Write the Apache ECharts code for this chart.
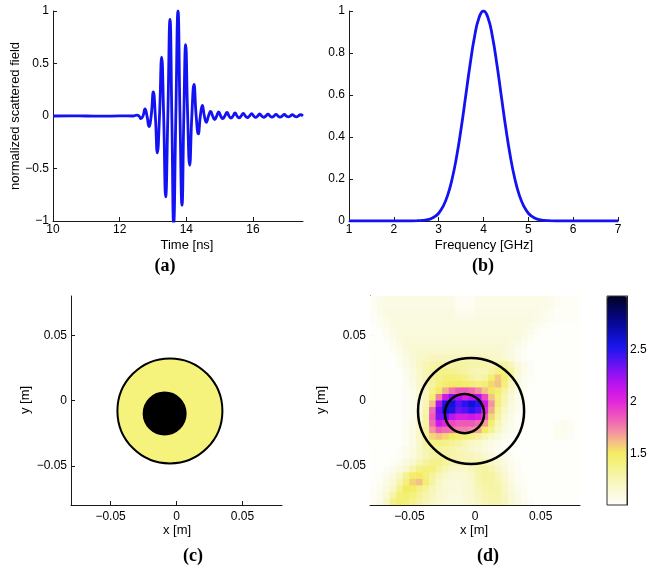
<!DOCTYPE html>
<html>
<head>
<meta charset="UTF-8">
<title>scattered field</title>
<script src="https://cdn.jsdelivr.net/npm/echarts@6/dist/echarts.min.js"></script>
<style>
  html, body { margin: 0; padding: 0; background: #fff; }
  #m1 { width: 647px; height: 572px; }
</style>
</head>
<body>
<div id="m1"></div>
<script>
// (a) normalized scattered field vs time
var timeNs = [10, 10.5, 11, 11.5, 12, 12.4, 12.52, 12.58, 12.64, 12.70, 12.76, 12.82, 12.88, 12.945,
    13.01, 13.07, 13.13, 13.195, 13.26, 13.32, 13.38, 13.445, 13.51, 13.565, 13.62, 13.685, 13.75, 13.81,
    13.87, 13.925, 13.98, 14.04, 14.10, 14.165, 14.23, 14.295, 14.36, 14.42, 14.48, 14.54, 14.60, 14.665,
    14.73, 14.79, 14.85, 14.91, 14.97, 15.03, 15.09, 15.155, 15.22, 15.28, 15.34, 15.40, 15.46, 15.52,
    15.58, 15.645, 15.71, 15.77, 15.83, 15.895, 15.96, 16.02, 16.08, 16.14, 16.20, 16.26, 16.32, 16.385,
    16.45, 16.51, 16.57, 16.63, 16.69, 16.75, 16.81, 16.875, 16.94, 17.00, 17.06, 17.12, 17.18, 17.24,
    17.30, 17.36, 17.42, 17.5];
var fieldVal = [0, 0.002, 0, -0.002, 0.001, 0, 0.008, 0, -0.025, 0, 0.067, 0, -0.10, 0,
    0.23, 0, -0.35, 0, 0.56, 0, -0.77, 0, 0.92, 0, -1.03, 0, 1.0, 0,
    -0.85, 0, 0.68, 0, -0.47, 0, 0.30, 0, -0.17, 0, 0.10, 0, -0.06, 0,
    0.045, 0, -0.035, 0, 0.04, 0, -0.025, 0, 0.035, 0, -0.02, 0, 0.03, 0,
    -0.018, 0, 0.025, 0, -0.015, 0, 0.022, 0, -0.013, 0, 0.02, 0, -0.012, 0,
    0.018, 0, -0.01, 0, 0.016, 0, -0.01, 0, 0.015, 0, -0.008, 0, 0.014, 0,
    -0.008, 0, 0.012, 0.002];

// (b) spectrum
var freqGHz = [1, 1.5, 2, 2.2, 2.4, 2.5, 2.6, 2.7, 2.8, 2.9, 3.0, 3.1, 3.2, 3.3, 3.4, 3.5, 3.6, 3.7, 3.8, 3.9,
    4.0, 4.1, 4.2, 4.3, 4.4, 4.5, 4.6, 4.7, 4.8, 4.9, 5.0, 5.1, 5.2, 5.3, 5.4, 5.5, 5.6, 5.8, 6, 6.5, 7];
var spectrum = [0, 0, 0, 0, 0, 0.001, 0.002, 0.004, 0.009, 0.019, 0.037, 0.07, 0.122, 0.2, 0.306, 0.439, 0.591, 0.744, 0.877, 0.968,
    1.0, 0.968, 0.877, 0.744, 0.591, 0.439, 0.306, 0.2, 0.122, 0.07, 0.037, 0.019, 0.009, 0.004, 0.002, 0.001, 0, 0, 0, 0, 0];

// (c) true profile, circles as [cx, cy, r]
var circlesTrue = [[-0.005, -0.008, 0.040], [-0.009, -0.010, 0.016]];

// (d) reconstruction on a 32x32 grid (cell centres), plus the true outlines
var mapX = [-0.0775, -0.0725, -0.0675, -0.0625, -0.0575, -0.0525, -0.0475, -0.0425, -0.0375, -0.0325, -0.0275,
    -0.0225, -0.0175, -0.0125, -0.0075, -0.0025, 0.0025, 0.0075, 0.0125, 0.0175, 0.0225, 0.0275, 0.0325,
    0.0375, 0.0425, 0.0475, 0.0525, 0.0575, 0.0625, 0.0675, 0.0725, 0.0775];
var mapY = [0.0775, 0.0725, 0.0675, 0.0625, 0.0575, 0.0525, 0.0475, 0.0425, 0.0375, 0.0325, 0.0275,
    0.0225, 0.0175, 0.0125, 0.0075, 0.0025, -0.0025, -0.0075, -0.0125, -0.0175, -0.0225, -0.0275, -0.0325,
    -0.0375, -0.0425, -0.0475, -0.0525, -0.0575, -0.0625, -0.0675, -0.0725, -0.0775];
var cellSize = 0.005;
var fieldRows = [
    [1.03,1.06,1.08,1.08,1.08,1.08,1.08,1.08, 1.08,1.08,1.08,1.08,1.08,1.02,1.02,1.02, 1.07,1.07,1.07,1.07,1.07,1.07,1.07,1.07, 1.07,1.07,1.07,1.05,1.03,1.01,1.01,1.01],
    [1.03,1.06,1.08,1.08,1.08,1.08,1.08,1.08, 1.08,1.08,1.08,1.08,1.08,1.03,1.03,1.03, 1.07,1.07,1.07,1.07,1.07,1.07,1.07,1.07, 1.07,1.07,1.07,1.05,1.03,1.01,1.01,1.01],
    [1.02,1.05,1.09,1.09,1.09,1.09,1.09,1.09, 1.09,1.09,1.09,1.09,1.09,1.05,1.05,1.05, 1.08,1.08,1.08,1.08,1.08,1.08,1.08,1.08, 1.08,1.08,1.06,1.04,1.01,1.01,1.01,1.01],
    [1.01,1.04,1.07,1.10,1.10,1.10,1.10,1.10, 1.10,1.10,1.10,1.10,1.10,1.08,1.08,1.08, 1.09,1.09,1.09,1.09,1.09,1.09,1.09,1.09, 1.09,1.07,1.05,1.03,1.01,1.01,1.01,1.01],
    [1.00,1.03,1.06,1.09,1.10,1.10,1.10,1.10, 1.10,1.10,1.10,1.10,1.10,1.10,1.10,1.10, 1.10,1.10,1.10,1.10,1.10,1.10,1.10,1.09, 1.07,1.05,1.03,1.00,1.00,1.00,1.00,1.00],
    [1.00,1.00,1.04,1.08,1.11,1.11,1.11,1.11, 1.11,1.11,1.11,1.11,1.11,1.11,1.11,1.11, 1.11,1.11,1.11,1.11,1.11,1.11,1.10,1.08, 1.05,1.03,1.00,1.00,1.00,1.00,1.00,1.00],
    [1.00,1.00,1.02,1.06,1.10,1.12,1.12,1.12, 1.12,1.12,1.12,1.12,1.12,1.12,1.12,1.12, 1.12,1.12,1.12,1.12,1.12,1.11,1.09,1.06, 1.03,1.00,1.00,1.00,1.00,1.00,1.00,1.00],
    [1.00,1.00,1.00,1.04,1.08,1.12,1.14,1.14, 1.14,1.14,1.14,1.14,1.14,1.14,1.14,1.14, 1.14,1.14,1.14,1.14,1.13,1.10,1.07,1.04, 1.00,1.00,1.00,1.00,1.00,1.00,1.00,1.00],
    [1.00,1.00,1.00,1.03,1.06,1.10,1.14,1.17, 1.17,1.17,1.17,1.18,1.18,1.18,1.18,1.18, 1.18,1.18,1.16,1.16,1.13,1.09,1.05,1.02, 1.00,1.00,1.00,1.00,1.00,1.00,1.00,1.00],
    [1.00,1.00,1.00,1.00,1.04,1.08,1.13,1.18, 1.20,1.22,1.22,1.22,1.22,1.22,1.22,1.22, 1.22,1.22,1.20,1.18,1.15,1.10,1.05,1.02, 1.00,1.00,1.00,1.00,1.00,1.00,1.00,1.00],
    [1.00,1.00,1.00,1.00,1.03,1.07,1.12,1.20, 1.25,1.28,1.30,1.30,1.30,1.30,1.30,1.28, 1.28,1.28,1.26,1.28,1.30,1.22,1.12,1.05, 1.02,1.00,1.00,1.00,1.00,1.00,1.00,1.00],
    [1.00,1.00,1.00,1.00,1.00,1.05,1.10,1.18, 1.25,1.30,1.35,1.36,1.35,1.32,1.30,1.26, 1.24,1.25,1.30,1.38,1.42,1.30,1.15,1.06, 1.02,1.00,1.00,1.00,1.00,1.00,1.00,1.00],
    [1.00,1.00,1.00,1.00,1.00,1.04,1.10,1.18, 1.25,1.32,1.38,1.42,1.42,1.40,1.36,1.30, 1.26,1.30,1.45,1.58,1.45,1.28,1.12,1.05, 1.01,1.00,1.00,1.00,1.00,1.00,1.00,1.00],
    [1.00,1.00,1.00,1.00,1.00,1.03,1.08,1.16, 1.24,1.32,1.40,1.46,1.50,1.50,1.48,1.44, 1.40,1.44,1.55,1.60,1.42,1.22,1.10,1.04, 1.00,1.00,1.00,1.00,1.00,1.00,1.00,1.00],
    [1.00,1.00,1.00,1.00,1.00,1.02,1.06,1.14, 1.22,1.35,1.50,1.65,1.78,1.85,1.85,1.80, 1.72,1.60,1.52,1.45,1.32,1.18,1.08,1.03, 1.00,1.00,1.00,1.00,1.00,1.00,1.00,1.00],
    [1.00,1.00,1.00,1.00,1.00,1.02,1.05,1.12, 1.22,1.45,1.75,2.10,2.30,2.20,2.05,2.15, 2.20,1.90,1.60,1.40,1.26,1.14,1.06,1.02, 1.00,1.00,1.00,1.00,1.00,1.00,1.00,1.00],
    [1.00,1.00,1.00,1.00,1.00,1.02,1.05,1.12, 1.25,1.60,2.20,2.55,2.60,2.40,2.50,2.60, 2.50,2.10,1.70,1.42,1.25,1.12,1.05,1.02, 1.00,1.00,1.00,1.00,1.00,1.00,1.00,1.00],
    [1.00,1.00,1.00,1.00,1.00,1.02,1.05,1.12, 1.28,1.80,2.35,2.60,2.55,2.35,2.40,2.50, 2.40,2.00,1.65,1.35,1.20,1.10,1.04,1.01, 1.00,1.00,1.00,1.00,1.00,1.00,1.00,1.00],
    [1.00,1.00,1.00,1.00,1.00,1.02,1.06,1.14, 1.30,1.85,2.30,2.35,2.15,2.05,2.05,2.10, 2.05,1.85,1.55,1.30,1.15,1.08,1.03,1.00, 1.00,1.00,1.00,1.00,1.00,1.00,1.00,1.00],
    [1.00,1.00,1.00,1.00,1.00,1.03,1.07,1.16, 1.30,1.80,2.10,2.00,1.90,1.85,1.85,1.85, 1.80,1.68,1.45,1.25,1.12,1.06,1.02,1.00, 1.00,1.00,1.00,1.00,1.03,1.04,1.02,1.00],
    [1.00,1.00,1.00,1.00,1.00,1.03,1.08,1.18, 1.32,1.70,1.85,1.80,1.78,1.75,1.75,1.72, 1.65,1.50,1.35,1.20,1.10,1.05,1.02,1.00, 1.00,1.00,1.00,1.00,1.04,1.05,1.03,1.00],
    [1.00,1.00,1.00,1.00,1.00,1.03,1.08,1.18, 1.32,1.55,1.60,1.55,1.50,1.45,1.42,1.38, 1.32,1.25,1.18,1.12,1.06,1.03,1.00,1.00, 1.00,1.00,1.00,1.00,1.03,1.04,1.02,1.00],
    [1.00,1.00,1.00,1.00,1.00,1.03,1.08,1.18, 1.30,1.38,1.40,1.38,1.34,1.30,1.25,1.20, 1.16,1.12,1.08,1.05,1.03,1.02,1.00,1.00, 1.00,1.00,1.00,1.00,1.00,1.00,1.00,1.00],
    [1.00,1.00,1.00,1.00,1.02,1.05,1.10,1.18, 1.26,1.30,1.32,1.30,1.28,1.25,1.22,1.18, 1.14,1.10,1.07,1.04,1.02,1.00,1.00,1.00, 1.00,1.00,1.00,1.00,1.00,1.00,1.00,1.00],
    [1.00,1.00,1.00,1.00,1.02,1.05,1.10,1.18, 1.24,1.30,1.32,1.30,1.28,1.26,1.24,1.22, 1.20,1.16,1.12,1.08,1.05,1.02,1.00,1.00, 1.00,1.00,1.00,1.00,1.00,1.00,1.00,1.00],
    [1.00,1.00,1.00,1.02,1.05,1.10,1.16,1.24, 1.32,1.36,1.36,1.32,1.28,1.26,1.25,1.25, 1.26,1.24,1.20,1.15,1.10,1.05,1.02,1.00, 1.00,1.00,1.00,1.00,1.00,1.00,1.00,1.00],
    [1.00,1.00,1.02,1.05,1.10,1.18,1.28,1.38, 1.42,1.40,1.32,1.25,1.20,1.18,1.18,1.22, 1.28,1.30,1.26,1.20,1.12,1.06,1.02,1.00, 1.00,1.00,1.00,1.00,1.00,1.00,1.00,1.00],
    [1.00,1.02,1.05,1.10,1.20,1.35,1.48,1.50, 1.42,1.32,1.24,1.18,1.14,1.13,1.15,1.20, 1.28,1.32,1.30,1.24,1.16,1.08,1.03,1.00, 1.00,1.00,1.00,1.00,1.00,1.00,1.00,1.00],
    [1.00,1.03,1.07,1.14,1.26,1.42,1.56,1.60, 1.45,1.30,1.20,1.15,1.12,1.12,1.14,1.18, 1.26,1.30,1.30,1.26,1.18,1.10,1.04,1.01, 1.00,1.00,1.00,1.00,1.00,1.00,1.00,1.00],
    [1.01,1.04,1.10,1.20,1.35,1.50,1.48,1.40, 1.32,1.25,1.18,1.14,1.12,1.12,1.14,1.18, 1.24,1.28,1.30,1.28,1.20,1.12,1.05,1.02, 1.00,1.00,1.00,1.00,1.00,1.00,1.00,1.00],
    [1.02,1.06,1.14,1.28,1.42,1.45,1.40,1.34, 1.28,1.22,1.16,1.13,1.11,1.11,1.13,1.17, 1.22,1.26,1.28,1.28,1.22,1.14,1.07,1.03, 1.00,1.00,1.00,1.00,1.00,1.00,1.00,1.00],
    [1.03,1.08,1.20,1.38,1.45,1.42,1.36,1.30, 1.25,1.20,1.15,1.12,1.10,1.10,1.12,1.16, 1.20,1.24,1.27,1.27,1.22,1.15,1.08,1.04, 1.02,1.00,1.00,1.00,1.00,1.00,1.00,1.00]
];
var circlesRec = [[-0.003, -0.008, 0.0405], [-0.008, -0.010, 0.015]];

// tick positions
var ticksTime = [10, 12, 14, 16];
var ticksField = [-1, -0.5, 0, 0.5, 1];
var ticksFreq = [1, 2, 3, 4, 5, 6, 7];
var ticksSpec = [0, 0.2, 0.4, 0.6, 0.8, 1];
var ticksXY = [-0.05, 0, 0.05];
var ticksBar = [1.5, 2, 2.5];

var colormap = ['#fefefa', '#fafadf', '#f8f7c4', '#f6f4a2', '#f4f17e', '#f3ec62', '#f4bf86', '#f292a0',
    '#f068b4', '#ec44c8', '#e024dc', '#c818ea', '#a812f2', '#7c12f4', '#4c14f2', '#1e16ee', '#1010d0',
    '#0a0aa8', '#06067c', '#040450', '#020220'];

var sans = 'Liberation Sans';
var axisCol = '#1a1a1a';

function fmt(v) {
    return String(v).replace('-', '\u2212');
}

function zip(a, b) {
    var out = [];
    for (var i = 0; i < a.length; i++) out.push([a[i], b[i]]);
    return out;
}

function valAxis(gi, min, max, ticks, pos, margin) {
    return {
        type: 'value', gridIndex: gi, min: min, max: max, position: pos,
        splitLine: {show: false},
        axisLine: {show: true, onZero: false, lineStyle: {color: axisCol, width: 1}},
        axisTick: {show: true, inside: true, length: 4, customValues: ticks, lineStyle: {color: axisCol}},
        axisLabel: {show: true, customValues: ticks, margin: margin, color: '#000', fontSize: 12,
            fontFamily: sans, formatter: fmt}
    };
}

var heatData = [];
for (var j = 0; j < mapY.length; j++) {
    if (fieldRows[j].length !== mapX.length) console.warn('row ' + j + ' has ' + fieldRows[j].length);
    for (var i = 0; i < mapX.length; i++) {
        heatData.push([mapX[i], mapY[j], fieldRows[j][i]]);
    }
}

function drawCells(params, api) {
    var h = cellSize / 2;
    var p = api.coord([api.value(0) - h, api.value(1) + h]);
    var s = api.size([cellSize, cellSize]);
    return {
        type: 'rect',
        shape: {x: p[0], y: p[1], width: s[0] + 0.7, height: s[1] + 0.7},
        style: {fill: api.visual('color')}
    };
}

var trueFills = ['#f6f37c', '#000000'];
function drawTrue(params, api) {
    var c = api.coord([api.value(0), api.value(1)]);
    var s = api.size([api.value(2), api.value(2)]);
    return {
        type: 'circle',
        shape: {cx: c[0], cy: c[1], r: (s[0] + s[1]) / 2},
        style: {fill: trueFills[params.dataIndex], stroke: '#000', lineWidth: 2}
    };
}

function drawOutline(params, api) {
    var c = api.coord([api.value(0), api.value(1)]);
    var s = api.size([api.value(2), api.value(2)]);
    return {
        type: 'circle',
        shape: {cx: c[0], cy: c[1], r: (s[0] + s[1]) / 2},
        style: {fill: 'none', stroke: '#000', lineWidth: 2.5}
    };
}

var my1 = echarts.init(document.getElementById('m1'), null, {renderer: 'canvas'});

var option1 = {
    animation: false,
    backgroundColor: '#ffffff',
    grid: [
        {left: 53, top: 11, width: 250, height: 210, containLabel: false, outerBoundsMode: 'none'},
        {left: 349, top: 11, width: 269, height: 210, containLabel: false, outerBoundsMode: 'none'},
        {left: 71, top: 296, width: 211, height: 209, containLabel: false, outerBoundsMode: 'none'},
        {left: 370, top: 296, width: 210, height: 209, containLabel: false, outerBoundsMode: 'none'},
        {left: 607, top: 296, width: 20, height: 209, containLabel: false, outerBoundsMode: 'none',
            show: true, z: 10, borderColor: '#333', borderWidth: 1, backgroundColor: 'transparent'}
    ],
    xAxis: [
        valAxis(0, 10, 17.5, ticksTime, 'bottom', 3),
        valAxis(1, 1, 7, ticksFreq, 'bottom', 3),
        valAxis(2, -0.08, 0.08, ticksXY, 'bottom', 6),
        valAxis(3, -0.08, 0.08, ticksXY, 'bottom', 6),
        {type: 'value', gridIndex: 4, min: 0, max: 1, show: false}
    ],
    yAxis: [
        valAxis(0, -1, 1, ticksField, 'left', 4),
        valAxis(1, 0, 1, ticksSpec, 'left', 4),
        valAxis(2, -0.08, 0.08, ticksXY, 'left', 4),
        valAxis(3, -0.08, 0.08, ticksXY, 'left', 4),
        valAxis(4, 1, 3.02, ticksBar, 'right', 3)
    ],
    visualMap: [{
        type: 'continuous', seriesIndex: 3, dimension: 2, min: 1, max: 3.02,
        inRange: {color: colormap},
        calculable: false, hoverLink: false, text: null,
        left: 607, top: 296, itemWidth: 20, itemHeight: 209, padding: 0, borderWidth: 0
    }],
    series: [
        {
            type: 'line', xAxisIndex: 0, yAxisIndex: 0, data: zip(timeNs, fieldVal),
            smooth: 0.5, showSymbol: false, clip: true,
            lineStyle: {color: '#1212f2', width: 2.8}
        },
        {
            type: 'line', xAxisIndex: 1, yAxisIndex: 1, data: zip(freqGHz, spectrum),
            smooth: 0.5, showSymbol: false, clip: true,
            lineStyle: {color: '#1212f2', width: 2.8}
        },
        {
            type: 'custom', xAxisIndex: 2, yAxisIndex: 2, data: circlesTrue,
            renderItem: drawTrue, clip: true, silent: true
        },
        {
            type: 'custom', xAxisIndex: 3, yAxisIndex: 3, data: heatData,
            renderItem: drawCells, clip: true, silent: true
        },
        {
            type: 'custom', xAxisIndex: 3, yAxisIndex: 3, data: circlesRec,
            renderItem: drawOutline, clip: true, silent: true, z: 5
        }
    ],
    graphic: [
        {type: 'text', x: 15, y: 116, rotation: Math.PI / 2,
            style: {text: 'normalized scattered field', fontSize: 13, fontFamily: sans, fill: '#000',
                align: 'center', verticalAlign: 'middle', textAlign: 'center', textVerticalAlign: 'middle'}},
        {type: 'text', x: 187, y: 245,
            style: {text: 'Time [ns]', fontSize: 13, fontFamily: sans, fill: '#000',
                align: 'center', verticalAlign: 'middle', textAlign: 'center', textVerticalAlign: 'middle'}},
        {type: 'text', x: 484, y: 245,
            style: {text: 'Frequency [GHz]', fontSize: 13, fontFamily: sans, fill: '#000',
                align: 'center', verticalAlign: 'middle', textAlign: 'center', textVerticalAlign: 'middle'}},
        {type: 'text', x: 165, y: 266,
            style: {text: '(a)', fontSize: 18, fontWeight: 'bold', fontFamily: 'Liberation Serif', fill: '#000',
                align: 'center', verticalAlign: 'middle', textAlign: 'center', textVerticalAlign: 'middle'}},
        {type: 'text', x: 483, y: 266,
            style: {text: '(b)', fontSize: 18, fontWeight: 'bold', fontFamily: 'Liberation Serif', fill: '#000',
                align: 'center', verticalAlign: 'middle', textAlign: 'center', textVerticalAlign: 'middle'}},
        {type: 'text', x: 25, y: 400, rotation: Math.PI / 2,
            style: {text: 'y [m]', fontSize: 13, fontFamily: sans, fill: '#000',
                align: 'center', verticalAlign: 'middle', textAlign: 'center', textVerticalAlign: 'middle'}},
        {type: 'text', x: 321, y: 400, rotation: Math.PI / 2,
            style: {text: 'y [m]', fontSize: 13, fontFamily: sans, fill: '#000',
                align: 'center', verticalAlign: 'middle', textAlign: 'center', textVerticalAlign: 'middle'}},
        {type: 'text', x: 177, y: 530,
            style: {text: 'x [m]', fontSize: 13, fontFamily: sans, fill: '#000',
                align: 'center', verticalAlign: 'middle', textAlign: 'center', textVerticalAlign: 'middle'}},
        {type: 'text', x: 474, y: 530,
            style: {text: 'x [m]', fontSize: 13, fontFamily: sans, fill: '#000',
                align: 'center', verticalAlign: 'middle', textAlign: 'center', textVerticalAlign: 'middle'}},
        {type: 'text', x: 193, y: 556,
            style: {text: '(c)', fontSize: 18, fontWeight: 'bold', fontFamily: 'Liberation Serif', fill: '#000',
                align: 'center', verticalAlign: 'middle', textAlign: 'center', textVerticalAlign: 'middle'}},
        {type: 'text', x: 488, y: 556,
            style: {text: '(d)', fontSize: 18, fontWeight: 'bold', fontFamily: 'Liberation Serif', fill: '#000',
                align: 'center', verticalAlign: 'middle', textAlign: 'center', textVerticalAlign: 'middle'}}
    ]
};
my1.setOption(option1);
</script>
</body>
</html>
